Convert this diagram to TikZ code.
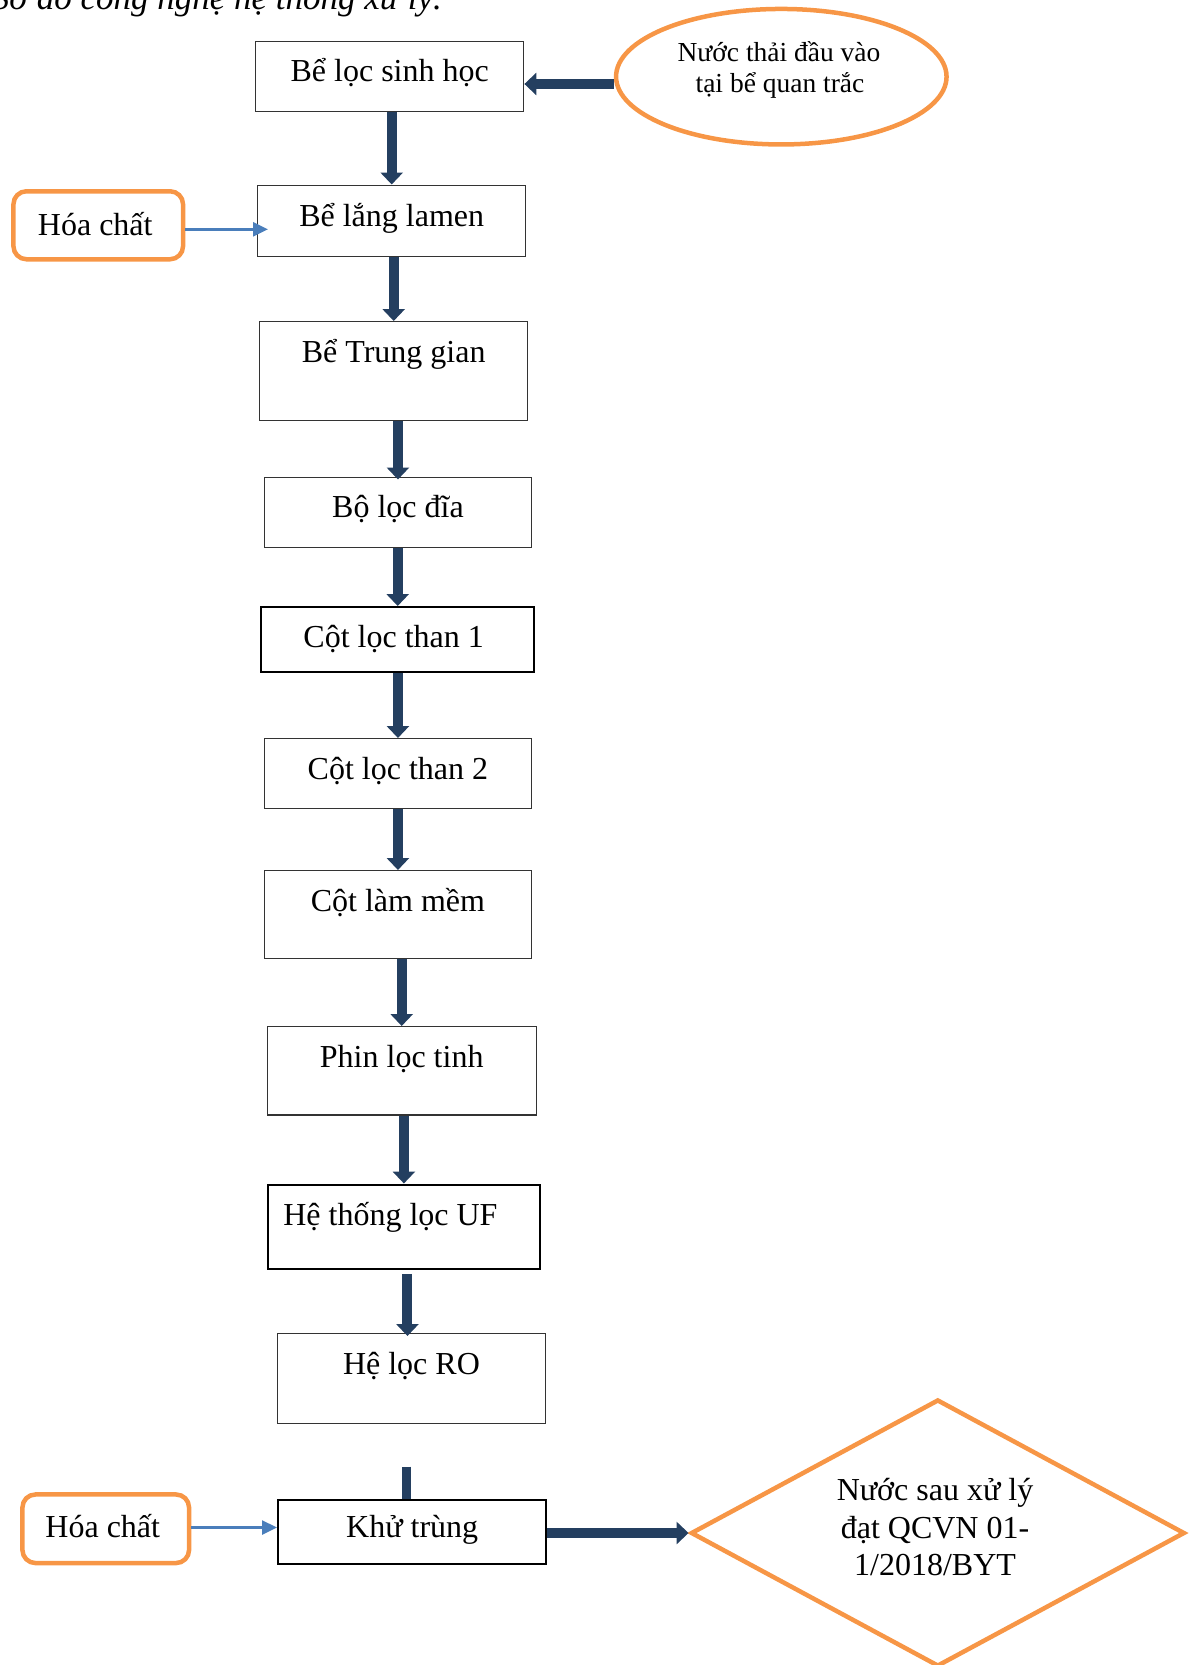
\documentclass[tikz,border=0pt]{standalone}
\usepackage{fontspec}
\setmainfont{Liberation Serif}
\usetikzlibrary{arrows.meta,shapes.geometric}
\definecolor{navy}{HTML}{243F60}
\definecolor{orng}{HTML}{F79646}
\definecolor{lblue}{HTML}{4A7EBB}
\begin{document}
\begin{tikzpicture}[x=1pt,y=-1pt,
  procbox/.style={draw=black!80, line width=1.4pt, rectangle, inner sep=0pt, anchor=north west},
  thickbox/.style={procbox, draw=black, line width=2.4pt},
  boxtext/.style={font=\fontsize{32}{38}\selectfont, inner sep=0pt, anchor=base},
  smalltext/.style={font=\fontsize{27.5}{31}\selectfont, inner sep=0pt, anchor=base},
  captext/.style={font=\fontsize{35}{40}\selectfont\itshape, inner sep=0pt, anchor=base east},
  chembox/.style={draw=orng, line width=4.5pt, rounded corners=13pt, rectangle, inner sep=0pt, anchor=north west},
  flow/.style={draw=navy, line width=10pt, -{Triangle[width=22pt,length=12pt]}},
  stubline/.style={draw=navy, line width=9pt},
  feed/.style={draw=lblue, line width=2.5pt, -{Triangle[width=14pt,length=15pt]}},
]
\useasboundingbox (0,0) rectangle (1197,1665);

% caption (clipped at the top edge)
\node[captext] (cap) at (442,9.5) {Sơ đồ công nghệ hệ thống xử lý.};

% process boxes
\node[procbox, minimum width=268pt, minimum height=70pt] (b1) at (255,41) {};
\node[procbox, minimum width=268pt, minimum height=71pt] (b2) at (257,184.5) {};
\node[procbox, minimum width=268pt, minimum height=99pt] (b3) at (259,321) {};
\node[procbox, minimum width=267.5pt, minimum height=70.5pt] (b4) at (263.5,476.5) {};
\node[thickbox, minimum width=273pt, minimum height=64.5pt] (b5) at (260,606) {};
\node[procbox, minimum width=267.5pt, minimum height=70pt] (b6) at (263.5,738) {};
\node[procbox, minimum width=267.5pt, minimum height=88pt] (b7) at (263.5,870) {};
\node[procbox, minimum width=269pt, minimum height=88.3pt] (b8) at (266.5,1026) {};
\node[thickbox, minimum width=272pt, minimum height=84pt] (b9) at (266.7,1183.5) {};
\node[procbox, minimum width=268.5pt, minimum height=89.5pt] (b10) at (276.5,1333) {};
\node[thickbox, minimum width=268pt, minimum height=64pt] (b11) at (277,1498.5) {};

\node[boxtext] (t1) at ([yshift=-40pt]b1.north) {Bể lọc sinh học};
\node[boxtext] (t2) at ([yshift=-41.5pt]b2.north) {Bể lắng lamen};
\node[boxtext] (t3) at ([yshift=-41pt]b3.north) {Bể Trung gian};
\node[boxtext] (t4) at ([yshift=-41pt]b4.north) {Bộ lọc đĩa};
\node[boxtext] (t5) at ([yshift=-41.3pt,xshift=-4pt]b5.north) {Cột lọc than 1};
\node[boxtext] (t6) at ([yshift=-41pt]b6.north) {Cột lọc than 2};
\node[boxtext] (t7) at ([yshift=-41pt]b7.north) {Cột làm mềm};
\node[boxtext] (t8) at ([yshift=-41pt]b8.north) {Phin lọc tinh};
\node[boxtext] (t9) at ([yshift=-41.5pt,xshift=-13.5pt]b9.north) {Hệ thống lọc UF};
\node[boxtext] (t10) at ([yshift=-41.3pt]b10.north) {Hệ lọc RO};
\node[boxtext] (t11) at ([yshift=-38.5pt]b11.north) {Khử trùng};

% input ellipse
\node[ellipse, draw=orng, line width=4.5pt, inner sep=0pt, minimum width=330.5pt, minimum height=135.5pt] (ell) at (781.3,76.7) {};
\node[smalltext] (e1) at (779,61.7) {Nước thải đầu vào};
\node[smalltext] (e2) at (780,92.7) {tại bể quan trắc};

% chemicals
\node[chembox, minimum width=169.6pt, minimum height=68pt] (h1) at (11.2,189) {};
\node[boxtext] (ht1) at ([yshift=-10pt,xshift=-3pt]h1.center) {Hóa chất};
\node[chembox, minimum width=166.6pt, minimum height=68.6pt] (h2) at (20.2,1492.2) {};
\node[boxtext] (ht2) at ([yshift=-8.5pt,xshift=-3pt]h2.center) {Hóa chất};

% output diamond
\node[diamond, draw=orng, line width=4.5pt, inner sep=0pt, minimum width=494pt, minimum height=267pt] (dia) at (937.8,1533) {};
\node[boxtext] (d1) at (935,1500.7) {Nước sau xử lý};
\node[boxtext] (d2) at (935,1538.3) {đạt QCVN 01-};
\node[boxtext] (d3) at (935,1575) {1/2018/BYT};

% connectors
\coordinate (inY) at (0,84);
\draw[flow] (ell.west |- inY) -- (b1.east |- inY);
\draw[flow] (b1.south -| b2.north) -- (b2.north);
\draw[flow] (b2.south -| b3.north) -- (b3.north);
\draw[flow] (b3.south -| b4.north) -- ([yshift=-3pt]b4.north);
\draw[flow] (b4.south -| b5.north) -- (b5.north);
\draw[flow] (b5.south -| b6.north) -- (b6.north);
\draw[flow] (b6.south -| b7.north) -- (b7.north);
\draw[flow] (b7.south -| b8.north) -- (b8.north);
\draw[flow] (b8.south -| b9.north) -- (b9.north);
\coordinate (a10) at ([xshift=-4pt]b10.north);
\draw[flow] ([yshift=-4pt]b9.south -| a10) -- ([yshift=-3pt]a10);
\coordinate (stub) at (406.5,1466.7);
\draw[stubline] (stub) -- (stub |- b11.north);
\draw[flow] (b11.east |- dia.west) -- (dia.west);

\coordinate (f1) at (0,229.3);
\draw[feed, shorten >=-11pt] (h1.east |- f1) -- (b2.west |- f1);
\coordinate (f2) at (0,1527.5);
\draw[feed] (h2.east |- f2) -- (b11.west |- f2);
\end{tikzpicture}
\end{document}
